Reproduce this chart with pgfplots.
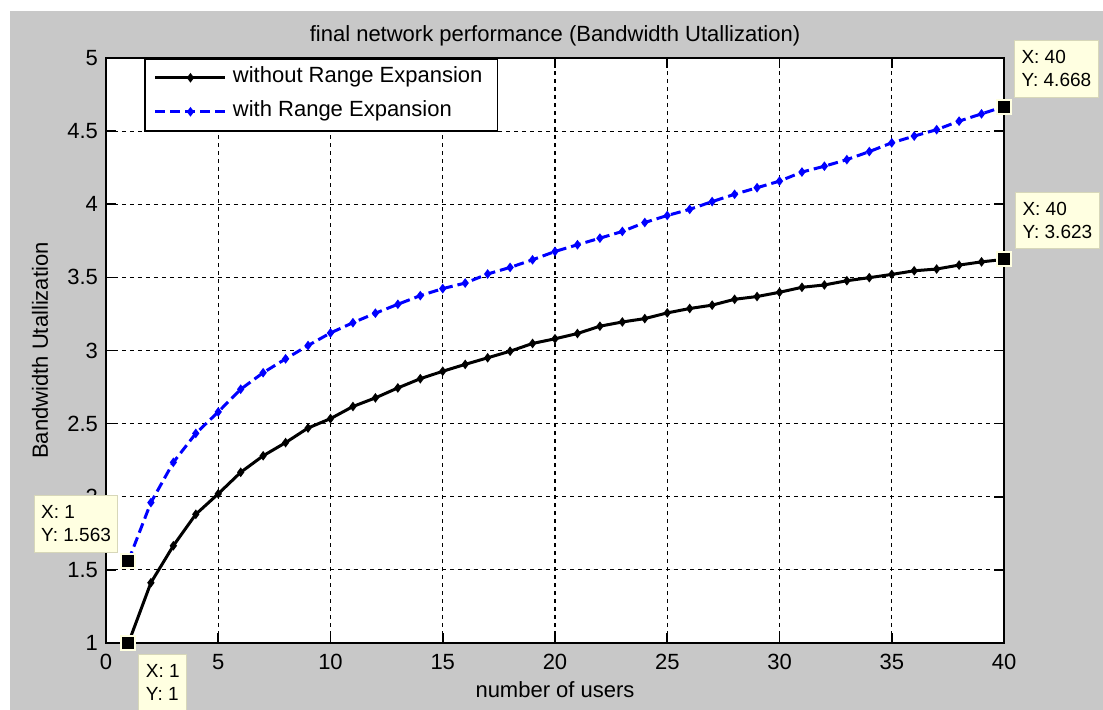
\documentclass[border=0pt]{standalone}
\usepackage{pgfplots}
\pgfplotsset{compat=1.18}
\usepackage{fontspec}
\setmainfont{Liberation Sans}
\definecolor{figgray}{RGB}{200,200,200}
\definecolor{tipfill}{RGB}{255,255,225}
\definecolor{tipedge}{RGB}{215,215,185}
\definecolor{mblue}{RGB}{0,0,255}
\begin{document}
\begin{tikzpicture}
\fill[white] (-53pt,-33.5pt) rectangle (498.5pt,321.5pt);
\fill[figgray] (-48pt,-33.5pt) rectangle (498.5pt,316pt);
\begin{axis}[
  at={(0,0)}, anchor=south west,
  scale only axis, width=449pt, height=292.5pt,
  xmin=0, xmax=40, ymin=1, ymax=5,
  xtick={0,5,...,40}, ytick={1,1.5,...,5},
  tick pos=both, tick align=inside, major tick length=5pt,
  axis background/.style={fill=white},
  axis line style={line width=0.8pt},
  every tick/.style={black, line width=0.8pt},
  grid=major,
  major grid style={black, line width=0.6pt, dash pattern=on 2pt off 2pt},
  font=\fontsize{11}{13}\selectfont,
  /pgf/number format/assume math mode=true,
  xticklabel style={yshift=-2pt},
  yticklabel style={xshift=-0.5pt},
  title={final network performance (Bandwidth Utallization)},
  title style={at={(axis description cs:0.5,1.0427)}, anchor=center, yshift=-7.5pt},
  xlabel={number of users},
  xlabel style={at={(axis description cs:0.5,-0.0803)}, anchor=center},
  ylabel={Bandwidth Utallization},
  ylabel style={at={(axis description cs:-0.0735,0.5)}, anchor=center},
  clip=false,
  legend style={at={(axis description cs:0.0425,1)}, anchor=north west,
    draw=black, line width=0.8pt, fill=white, inner xsep=4.5pt, inner ysep=1pt,
    nodes={inner sep=3pt, text height=8pt, text depth=3pt}},
  legend cell align=left,
  legend image code/.code={\draw[mark repeat=2,mark phase=2,#1] plot coordinates {(0pt,0pt) (17.5pt,0pt) (35pt,0pt)};},
  every axis plot/.append style={line width=1.5pt},
]
\addplot[black, solid, mark=diamond*, mark size=1.2pt, mark options={solid}] coordinates {
(1,1.000) (2,1.412) (3,1.665) (4,1.880) (5,2.020) (6,2.167) (7,2.280) (8,2.370) (9,2.470) (10,2.534)
(11,2.617) (12,2.676) (13,2.744) (14,2.807) (15,2.858) (16,2.905) (17,2.950) (18,2.995) (19,3.048) (20,3.080)
(21,3.116) (22,3.166) (23,3.195) (24,3.218) (25,3.257) (26,3.287) (27,3.310) (28,3.350) (29,3.369) (30,3.398)
(31,3.432) (32,3.448) (33,3.477) (34,3.498) (35,3.520) (36,3.545) (37,3.557) (38,3.584) (39,3.606) (40,3.623)};
\addlegendentry{without Range Expansion\hspace{6pt}}
\addplot[mblue, dash pattern=on 5pt off 2.5pt, mark=diamond*, mark size=1.2pt, mark options={solid}] coordinates {
(1,1.563) (2,1.960) (3,2.235) (4,2.433) (5,2.580) (6,2.735) (7,2.848) (8,2.943) (9,3.034) (10,3.120)
(11,3.190) (12,3.255) (13,3.316) (14,3.375) (15,3.423) (16,3.461) (17,3.523) (18,3.568) (19,3.620) (20,3.677)
(21,3.723) (22,3.768) (23,3.814) (24,3.875) (25,3.923) (26,3.965) (27,4.018) (28,4.068) (29,4.113) (30,4.158)
(31,4.220) (32,4.260) (33,4.305) (34,4.360) (35,4.420) (36,4.466) (37,4.510) (38,4.568) (39,4.618) (40,4.668)};
\addlegendentry{with Range Expansion}
\addplot[forget plot, only marks, mark=square*, mark size=3.5pt, mark options={fill=black, draw=tipfill, line width=1pt}] coordinates {(1,1) (1,1.563) (40,3.623) (40,4.668)};
\begin{scope}[every node/.style={fill=tipfill, draw=tipedge, line width=0.5pt, align=left, inner xsep=3.5pt, inner ysep=5pt, font=\fontsize{9.5}{11.5}\selectfont}]
\node[anchor=south west, xshift=5pt, yshift=4.5pt] at (axis cs:40,4.668) {X: 40\\Y: 4.668};
\node[anchor=south west, xshift=5.5pt, yshift=5pt] at (axis cs:40,3.623) {X: 40\\Y: 3.623};
\node[anchor=south east, xshift=-5pt, yshift=4pt] at (axis cs:1,1.563) {X: 1\\Y: 1.563};
\node[anchor=north west, xshift=5pt, yshift=-5.5pt] at (axis cs:1,1) {X: 1\\Y: 1};
\end{scope}
\end{axis}
\pgfresetboundingbox
\path[use as bounding box] (-53pt,-33.5pt) rectangle (498.5pt,321.5pt);
\end{tikzpicture}
\end{document}
